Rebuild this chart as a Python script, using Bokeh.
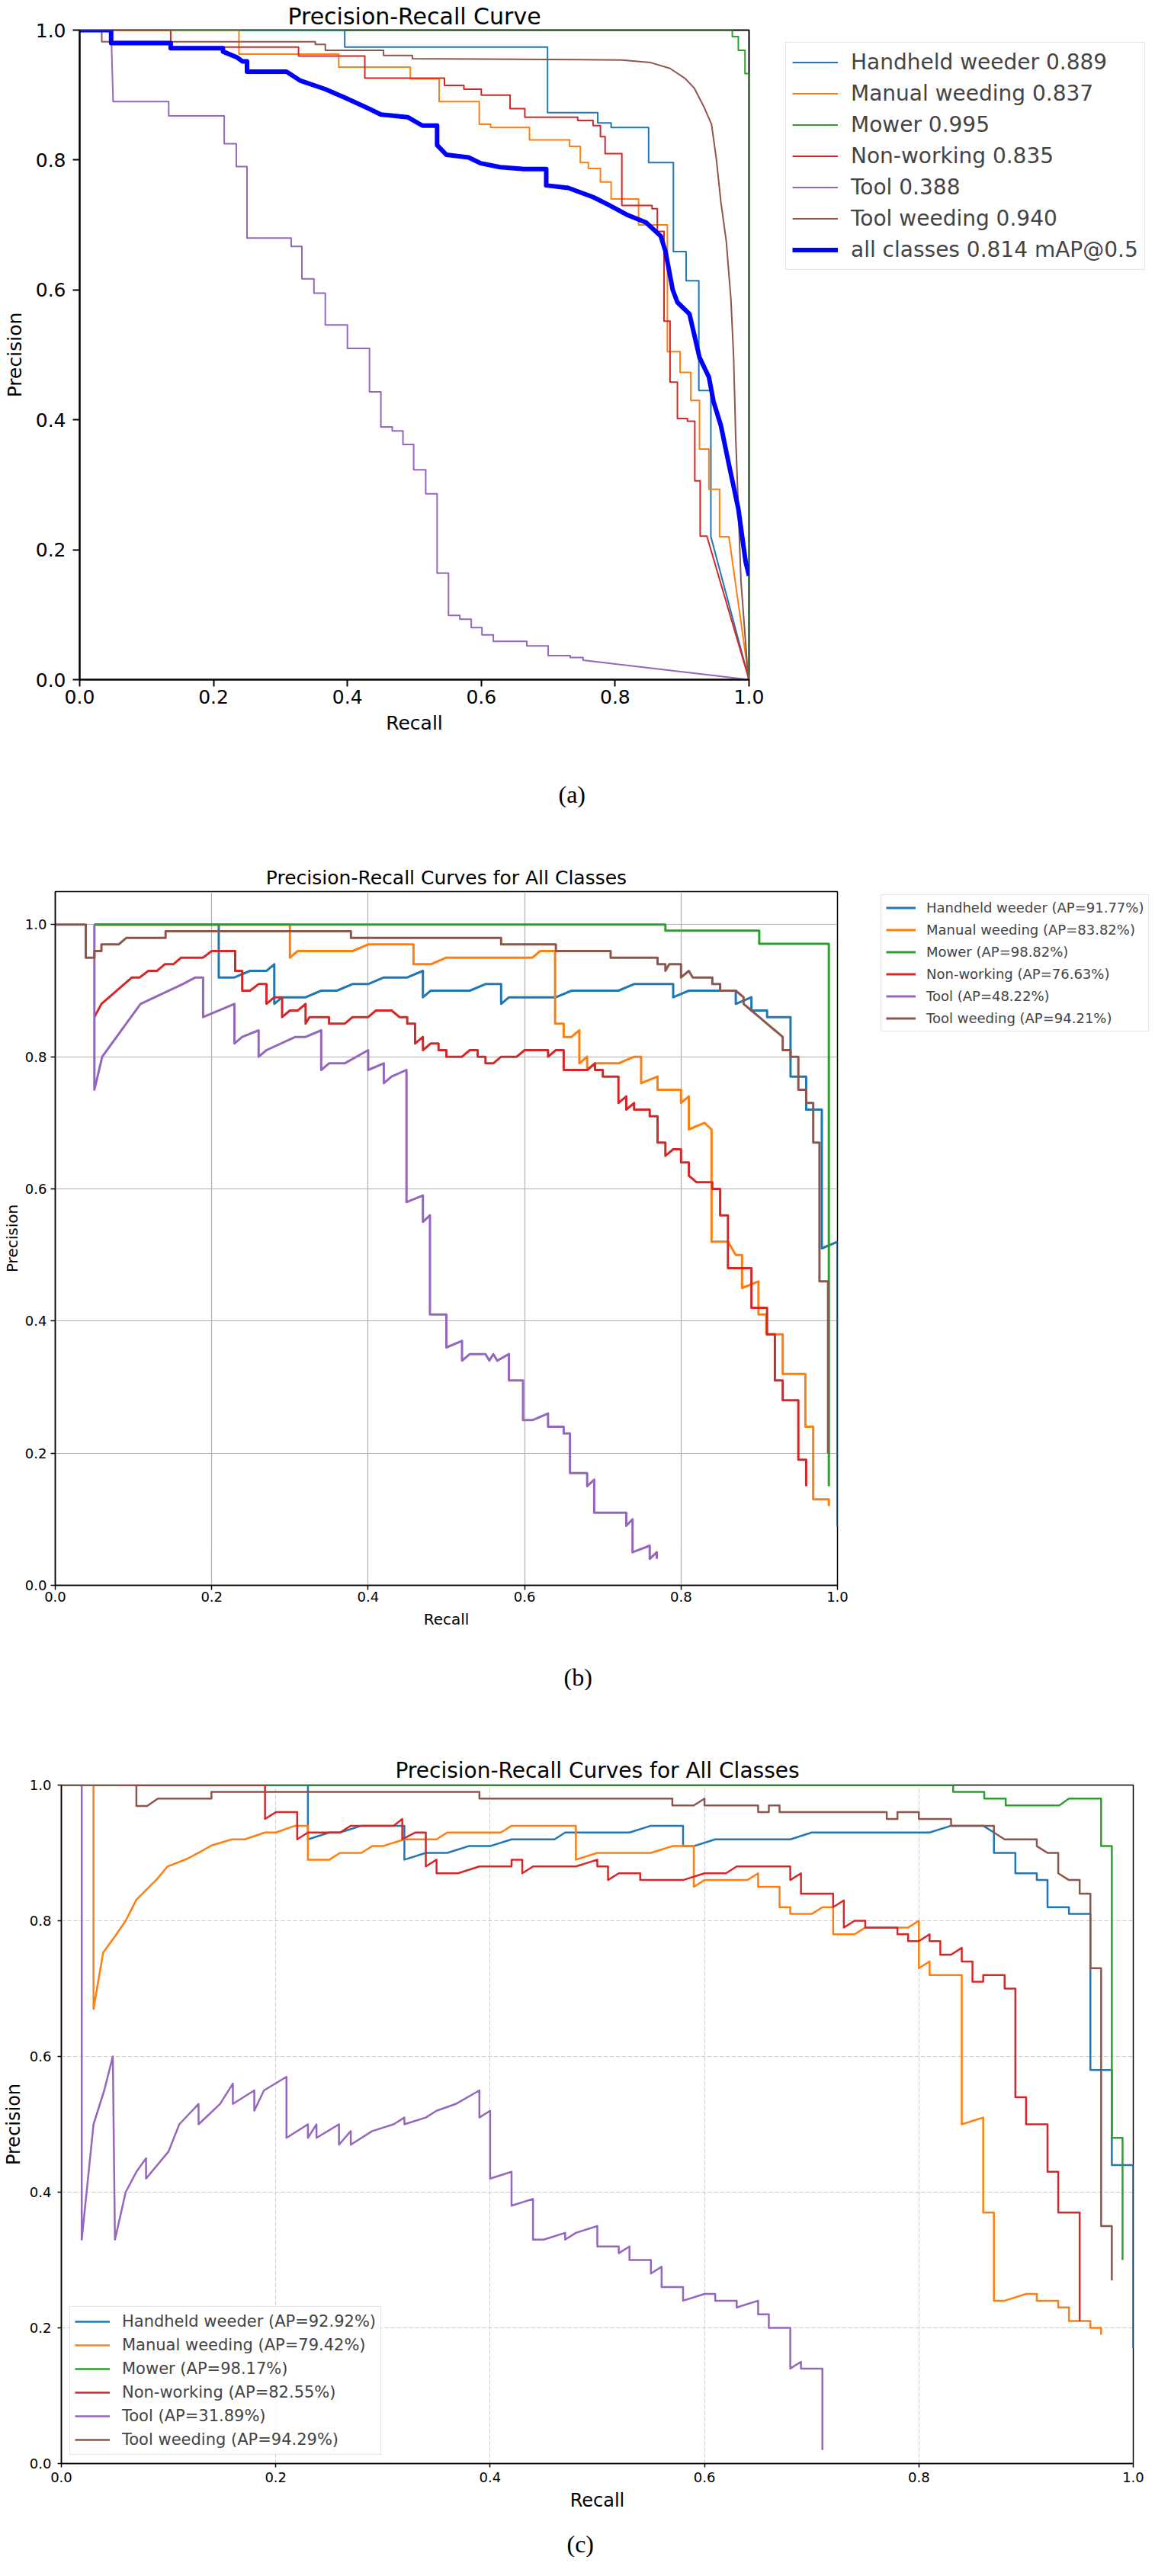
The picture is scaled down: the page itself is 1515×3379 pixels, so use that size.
from bokeh.plotting import figure
from bokeh.models import Range1d, FixedTicker, PrintfTickFormatter, Legend, LegendItem, Title
from bokeh.embed import file_html
from bokeh.resources import INLINE

# ---------------- data ----------------
CLASS_NAMES = ["Handheld weeder", "Manual weeding", "Mower", "Non-working", "Tool", "Tool weeding"]
CLASS_COLORS = ["#1f77b4", "#ff7f0e", "#2ca02c", "#d62728", "#9467bd", "#8c564b"]
ALL_COLOR = "#0000ff"
A_SCORES = [0.889, 0.837, 0.995, 0.835, 0.388, 0.940]
A_MAP = 0.814
B_AP = [91.77, 83.82, 98.82, 76.63, 48.22, 94.21]
C_AP = [92.92, 79.42, 98.17, 82.55, 31.89, 94.29]
AXIS_TICKS = [0.0, 0.2, 0.4, 0.6, 0.8, 1.0]

# panel (a): (recall, precision)
A_HANDHELD = [(0, 1), (0.396, 1), (0.396, 0.974), (0.699, 0.974), (0.699, 0.873), (0.774, 0.873),
              (0.774, 0.857), (0.794, 0.857), (0.794, 0.85), (0.85, 0.85), (0.85, 0.796), (0.887, 0.796),
              (0.887, 0.659), (0.906, 0.659), (0.906, 0.614), (0.925, 0.614), (0.925, 0.445), (0.943, 0.445),
              (0.943, 0.22), (1.0, 0.0)]
A_MANUAL = [(0, 1), (0.238, 1), (0.238, 0.963), (0.387, 0.963), (0.387, 0.943), (0.494, 0.943), (0.494, 0.925),
            (0.537, 0.925), (0.537, 0.89), (0.597, 0.89), (0.597, 0.855), (0.614, 0.855), (0.614, 0.85),
            (0.672, 0.85), (0.672, 0.831), (0.732, 0.831), (0.732, 0.821), (0.748, 0.821), (0.748, 0.796),
            (0.76, 0.796), (0.76, 0.787), (0.778, 0.787), (0.778, 0.766), (0.794, 0.766), (0.794, 0.74),
            (0.835, 0.74), (0.835, 0.70), (0.878, 0.70), (0.878, 0.505), (0.897, 0.505), (0.897, 0.473),
            (0.913, 0.473), (0.913, 0.43), (0.926, 0.43), (0.926, 0.355), (0.94, 0.355), (0.94, 0.293),
            (0.956, 0.293), (0.956, 0.22), (0.97, 0.22), (1.0, 0.0)]
A_MOWER = [(0, 1), (0.975, 1), (0.975, 0.99), (0.984, 0.99), (0.984, 0.969), (0.994, 0.969), (0.994, 0.933),
           (1.0, 0.933), (1.0, 0.0)]
A_NONWORK = [(0, 1), (0.136, 1), (0.136, 0.974), (0.327, 0.974), (0.327, 0.96), (0.426, 0.96), (0.426, 0.926),
             (0.545, 0.926), (0.545, 0.915), (0.574, 0.915), (0.574, 0.909), (0.6, 0.909), (0.6, 0.9),
             (0.643, 0.9), (0.643, 0.879), (0.665, 0.879), (0.665, 0.866), (0.744, 0.866), (0.744, 0.861),
             (0.767, 0.861), (0.767, 0.853), (0.778, 0.853), (0.778, 0.836), (0.785, 0.836), (0.785, 0.81),
             (0.81, 0.81), (0.81, 0.73), (0.855, 0.73), (0.855, 0.725), (0.863, 0.725), (0.863, 0.69),
             (0.873, 0.69), (0.873, 0.552), (0.882, 0.552), (0.882, 0.458), (0.893, 0.458), (0.893, 0.402),
             (0.908, 0.402), (0.908, 0.398), (0.919, 0.398), (0.919, 0.306), (0.927, 0.306), (0.927, 0.221),
             (0.937, 0.221), (1.0, 0.0)]
A_TOOL = [(0, 1), (0.047, 1), (0.05, 0.89), (0.133, 0.89), (0.133, 0.868), (0.216, 0.868), (0.216, 0.825),
          (0.234, 0.825), (0.234, 0.79), (0.25, 0.79), (0.25, 0.68), (0.316, 0.68), (0.316, 0.667),
          (0.332, 0.667), (0.332, 0.617), (0.35, 0.617), (0.35, 0.595), (0.367, 0.595), (0.367, 0.546),
          (0.40, 0.546), (0.40, 0.51), (0.433, 0.51), (0.433, 0.443), (0.45, 0.443), (0.45, 0.389),
          (0.467, 0.389), (0.467, 0.383), (0.483, 0.383), (0.483, 0.362), (0.499, 0.362), (0.499, 0.323),
          (0.517, 0.323), (0.517, 0.286), (0.534, 0.286), (0.534, 0.164), (0.551, 0.164), (0.551, 0.099),
          (0.568, 0.099), (0.568, 0.093), (0.585, 0.093), (0.585, 0.08), (0.601, 0.08), (0.601, 0.069),
          (0.618, 0.069), (0.618, 0.059), (0.668, 0.059), (0.668, 0.052), (0.70, 0.052), (0.70, 0.037),
          (0.733, 0.037), (0.733, 0.034), (0.752, 0.034), (0.752, 0.03), (1.0, 0.0)]
A_TOOLWEED = [(0, 1), (0.033, 1), (0.033, 0.982), (0.352, 0.982), (0.352, 0.978), (0.367, 0.978),
              (0.367, 0.969), (0.454, 0.969), (0.454, 0.961), (0.497, 0.961), (0.497, 0.956), (0.81, 0.954),
              (0.853, 0.95), (0.882, 0.941), (0.904, 0.926), (0.918, 0.911), (0.933, 0.881), (0.944, 0.855),
              (0.951, 0.803), (0.958, 0.735), (0.966, 0.675), (0.973, 0.585), (0.977, 0.496), (0.98, 0.376),
              (0.988, 0.151), (0.999, 0.0)]
A_ALL = [(0, 1), (0.047, 1), (0.047, 0.98), (0.136, 0.98), (0.136, 0.972), (0.214, 0.972), (0.214, 0.967),
         (0.235, 0.958), (0.243, 0.952), (0.25, 0.952), (0.25, 0.936), (0.309, 0.936), (0.33, 0.922),
         (0.367, 0.909), (0.396, 0.896), (0.432, 0.879), (0.45, 0.87), (0.49, 0.866), (0.512, 0.853),
         (0.534, 0.853), (0.534, 0.823), (0.548, 0.808), (0.581, 0.804), (0.599, 0.795), (0.628, 0.789),
         (0.664, 0.786), (0.697, 0.786), (0.697, 0.761), (0.73, 0.757), (0.767, 0.743), (0.79, 0.731),
         (0.817, 0.716), (0.846, 0.704), (0.868, 0.683), (0.875, 0.66), (0.886, 0.60), (0.893, 0.581),
         (0.911, 0.563), (0.926, 0.496), (0.94, 0.466), (0.947, 0.428), (0.958, 0.391), (0.97, 0.331),
         (0.984, 0.263), (0.995, 0.181), (1.0, 0.16)]

# panel (b)
B_HANDHELD = [(0.05, 1.0), (0.209, 1.0), (0.209, 0.92), (0.229, 0.92), (0.249, 0.93), (0.27, 0.93),
              (0.28, 0.94), (0.28, 0.88), (0.29, 0.89), (0.32, 0.89), (0.34, 0.90), (0.36, 0.90), (0.38, 0.91),
              (0.40, 0.91), (0.42, 0.92), (0.45, 0.92), (0.47, 0.93), (0.47, 0.89), (0.48, 0.90), (0.53, 0.90),
              (0.55, 0.91), (0.57, 0.91), (0.57, 0.88), (0.58, 0.89), (0.64, 0.89), (0.66, 0.90), (0.72, 0.90),
              (0.74, 0.91), (0.79, 0.91), (0.79, 0.89), (0.81, 0.90), (0.87, 0.90), (0.87, 0.88), (0.89, 0.89),
              (0.89, 0.87), (0.91, 0.87), (0.91, 0.86), (0.94, 0.86), (0.94, 0.77), (0.96, 0.77), (0.96, 0.72),
              (0.98, 0.72), (0.98, 0.51), (1.0, 0.52), (1.0, 0.09)]
B_MANUAL = [(0.05, 1.0), (0.30, 1.0), (0.30, 0.95), (0.31, 0.96), (0.38, 0.96), (0.40, 0.97), (0.458, 0.97),
            (0.458, 0.94), (0.48, 0.94), (0.50, 0.95), (0.61, 0.95), (0.62, 0.96), (0.639, 0.96), (0.639, 0.85),
            (0.65, 0.85), (0.65, 0.83), (0.66, 0.83), (0.67, 0.84), (0.67, 0.79), (0.68, 0.80), (0.68, 0.78),
            (0.69, 0.79), (0.72, 0.79), (0.74, 0.80), (0.749, 0.80), (0.749, 0.76), (0.77, 0.77), (0.77, 0.75),
            (0.80, 0.75), (0.80, 0.73), (0.81, 0.74), (0.81, 0.69), (0.83, 0.70), (0.839, 0.69), (0.839, 0.52),
            (0.86, 0.52), (0.87, 0.50), (0.878, 0.50), (0.878, 0.45), (0.899, 0.46), (0.899, 0.41),
            (0.909, 0.41), (0.909, 0.38), (0.93, 0.38), (0.93, 0.32), (0.959, 0.32), (0.959, 0.24),
            (0.969, 0.24), (0.969, 0.13), (0.989, 0.13), (0.989, 0.12)]
B_MOWER = [(0.05, 1.0), (0.78, 1.0), (0.78, 0.991), (0.90, 0.991), (0.90, 0.971), (0.989, 0.971), (0.989, 0.15)]
B_NONWORK = [(0.05, 0.86), (0.059, 0.88), (0.098, 0.92), (0.108, 0.92), (0.119, 0.93), (0.13, 0.93),
             (0.14, 0.94), (0.151, 0.94), (0.161, 0.95), (0.189, 0.95), (0.20, 0.96), (0.23, 0.96), (0.23, 0.93),
             (0.239, 0.93), (0.239, 0.90), (0.249, 0.90), (0.26, 0.91), (0.27, 0.91), (0.27, 0.88), (0.28, 0.89),
             (0.29, 0.89), (0.29, 0.86), (0.30, 0.87), (0.31, 0.87), (0.32, 0.88), (0.32, 0.85), (0.325, 0.86),
             (0.35, 0.86), (0.35, 0.85), (0.37, 0.85), (0.38, 0.86), (0.40, 0.86), (0.41, 0.87), (0.43, 0.87),
             (0.44, 0.86), (0.45, 0.86), (0.45, 0.85), (0.46, 0.85), (0.46, 0.82), (0.47, 0.83), (0.47, 0.81),
             (0.48, 0.82), (0.49, 0.82), (0.49, 0.81), (0.50, 0.81), (0.50, 0.80), (0.52, 0.80), (0.53, 0.81),
             (0.54, 0.81), (0.54, 0.80), (0.55, 0.80), (0.55, 0.79), (0.56, 0.79), (0.57, 0.80), (0.59, 0.80),
             (0.60, 0.81), (0.63, 0.81), (0.63, 0.80), (0.64, 0.81), (0.65, 0.81), (0.65, 0.78), (0.68, 0.78),
             (0.69, 0.79), (0.69, 0.78), (0.70, 0.78), (0.70, 0.77), (0.72, 0.77), (0.72, 0.73), (0.73, 0.74),
             (0.73, 0.72), (0.74, 0.73), (0.74, 0.72), (0.76, 0.72), (0.76, 0.71), (0.77, 0.71), (0.77, 0.67),
             (0.78, 0.67), (0.78, 0.65), (0.79, 0.66), (0.80, 0.66), (0.80, 0.64), (0.81, 0.64), (0.81, 0.62),
             (0.82, 0.61), (0.84, 0.61), (0.84, 0.60), (0.85, 0.60), (0.85, 0.56), (0.86, 0.56), (0.86, 0.48),
             (0.88, 0.48), (0.89, 0.48), (0.89, 0.42), (0.90, 0.42), (0.91, 0.42), (0.91, 0.38), (0.92, 0.38),
             (0.92, 0.31), (0.93, 0.31), (0.93, 0.28), (0.95, 0.28), (0.95, 0.19), (0.96, 0.19), (0.96, 0.15)]
B_TOOL = [(0.05, 1.0), (0.05, 0.75), (0.06, 0.80), (0.109, 0.88), (0.163, 0.91), (0.179, 0.92), (0.189, 0.92),
          (0.189, 0.86), (0.229, 0.88), (0.229, 0.82), (0.239, 0.83), (0.26, 0.84), (0.26, 0.80), (0.27, 0.81),
          (0.307, 0.83), (0.32, 0.83), (0.34, 0.84), (0.34, 0.78), (0.35, 0.79), (0.37, 0.79), (0.40, 0.81),
          (0.40, 0.78), (0.42, 0.79), (0.42, 0.76), (0.43, 0.77), (0.449, 0.78), (0.449, 0.58), (0.47, 0.59),
          (0.47, 0.55), (0.479, 0.56), (0.479, 0.41), (0.50, 0.41), (0.50, 0.36), (0.52, 0.37), (0.52, 0.34),
          (0.53, 0.35), (0.55, 0.35), (0.555, 0.34), (0.56, 0.35), (0.565, 0.34), (0.58, 0.35), (0.58, 0.31),
          (0.598, 0.31), (0.598, 0.25), (0.61, 0.25), (0.63, 0.26), (0.63, 0.24), (0.65, 0.24), (0.65, 0.23),
          (0.658, 0.23), (0.658, 0.17), (0.68, 0.17), (0.68, 0.15), (0.689, 0.16), (0.689, 0.11), (0.73, 0.11),
          (0.73, 0.09), (0.738, 0.10), (0.738, 0.05), (0.76, 0.06), (0.76, 0.04), (0.769, 0.05), (0.769, 0.04)]
B_TOOLWEED = [(0.0, 1.0), (0.039, 1.0), (0.039, 0.95), (0.05, 0.95), (0.05, 0.96), (0.059, 0.96), (0.059, 0.97),
              (0.081, 0.97), (0.091, 0.98), (0.141, 0.98), (0.141, 0.99), (0.378, 0.99), (0.378, 0.98),
              (0.57, 0.98), (0.57, 0.97), (0.64, 0.97), (0.64, 0.96), (0.71, 0.96), (0.71, 0.95), (0.77, 0.95),
              (0.77, 0.94), (0.78, 0.94), (0.78, 0.93), (0.785, 0.94), (0.80, 0.94), (0.80, 0.92), (0.81, 0.93),
              (0.815, 0.92), (0.84, 0.92), (0.84, 0.91), (0.85, 0.91), (0.85, 0.90), (0.87, 0.90), (0.88, 0.89),
              (0.88, 0.88), (0.89, 0.87), (0.90, 0.86), (0.91, 0.85), (0.92, 0.84), (0.93, 0.83), (0.93, 0.81),
              (0.94, 0.81), (0.94, 0.80), (0.95, 0.80), (0.95, 0.75), (0.96, 0.75), (0.96, 0.73), (0.969, 0.73),
              (0.969, 0.67), (0.977, 0.67), (0.977, 0.46), (0.988, 0.46), (0.988, 0.20)]

# panel (c)
C_HANDHELD = [(0.02, 1.0), (0.23, 1.0), (0.23, 0.92), (0.25, 0.93), (0.26, 0.93), (0.28, 0.94), (0.32, 0.94),
              (0.32, 0.89), (0.34, 0.90), (0.36, 0.90), (0.38, 0.91), (0.40, 0.91), (0.42, 0.92), (0.46, 0.92),
              (0.47, 0.93), (0.53, 0.93), (0.55, 0.94), (0.58, 0.94), (0.58, 0.91), (0.59, 0.91), (0.61, 0.92),
              (0.68, 0.92), (0.70, 0.93), (0.81, 0.93), (0.83, 0.94), (0.86, 0.94), (0.87, 0.93), (0.87, 0.90),
              (0.89, 0.90), (0.89, 0.87), (0.91, 0.87), (0.91, 0.86), (0.92, 0.86), (0.92, 0.82), (0.94, 0.82),
              (0.94, 0.81), (0.96, 0.81), (0.96, 0.58), (0.98, 0.58), (0.98, 0.44), (1.0, 0.44), (1.0, 0.17)]
C_MANUAL = [(0.03, 1.0), (0.03, 0.67), (0.039, 0.753), (0.05, 0.777), (0.06, 0.80), (0.07, 0.831),
            (0.089, 0.861), (0.099, 0.88), (0.117, 0.891), (0.129, 0.901), (0.14, 0.911), (0.159, 0.92),
            (0.171, 0.92), (0.19, 0.93), (0.20, 0.93), (0.218, 0.94), (0.23, 0.94), (0.23, 0.89), (0.25, 0.89),
            (0.26, 0.90), (0.28, 0.90), (0.29, 0.91), (0.30, 0.91), (0.32, 0.92), (0.35, 0.92), (0.36, 0.93),
            (0.41, 0.93), (0.42, 0.94), (0.48, 0.94), (0.48, 0.89), (0.50, 0.90), (0.55, 0.90), (0.57, 0.91),
            (0.59, 0.91), (0.59, 0.85), (0.60, 0.86), (0.64, 0.86), (0.65, 0.87), (0.65, 0.85), (0.67, 0.85),
            (0.67, 0.82), (0.68, 0.82), (0.68, 0.81), (0.70, 0.81), (0.71, 0.82), (0.72, 0.82), (0.72, 0.78),
            (0.74, 0.78), (0.75, 0.79), (0.79, 0.79), (0.80, 0.80), (0.80, 0.73), (0.81, 0.74), (0.81, 0.72),
            (0.84, 0.72), (0.84, 0.50), (0.86, 0.51), (0.86, 0.37), (0.87, 0.37), (0.87, 0.24), (0.88, 0.24),
            (0.90, 0.25), (0.91, 0.25), (0.91, 0.24), (0.93, 0.24), (0.93, 0.23), (0.94, 0.23), (0.94, 0.21),
            (0.96, 0.21), (0.96, 0.20), (0.97, 0.20), (0.97, 0.19)]
C_MOWER = [(0.0, 1.0), (0.832, 1.0), (0.832, 0.99), (0.861, 0.99), (0.861, 0.98), (0.881, 0.98), (0.881, 0.97),
           (0.931, 0.97), (0.94, 0.98), (0.97, 0.98), (0.97, 0.91), (0.98, 0.91), (0.98, 0.48), (0.99, 0.48),
           (0.99, 0.30)]
C_NONWORK = [(0.05, 1.0), (0.19, 1.0), (0.19, 0.95), (0.20, 0.96), (0.22, 0.96), (0.22, 0.92), (0.23, 0.93),
             (0.26, 0.93), (0.27, 0.94), (0.31, 0.94), (0.318, 0.95), (0.318, 0.92), (0.33, 0.93), (0.34, 0.93),
             (0.34, 0.88), (0.35, 0.89), (0.35, 0.87), (0.37, 0.87), (0.39, 0.88), (0.42, 0.88), (0.42, 0.89),
             (0.43, 0.89), (0.43, 0.87), (0.44, 0.88), (0.48, 0.88), (0.50, 0.89), (0.50, 0.88), (0.51, 0.88),
             (0.51, 0.86), (0.52, 0.87), (0.54, 0.87), (0.54, 0.86), (0.58, 0.86), (0.60, 0.87), (0.62, 0.87),
             (0.63, 0.88), (0.68, 0.88), (0.68, 0.86), (0.69, 0.87), (0.69, 0.84), (0.72, 0.84), (0.72, 0.82),
             (0.73, 0.83), (0.73, 0.79), (0.74, 0.80), (0.75, 0.80), (0.75, 0.79), (0.78, 0.79), (0.78, 0.78),
             (0.79, 0.78), (0.79, 0.77), (0.80, 0.77), (0.81, 0.78), (0.81, 0.77), (0.82, 0.77), (0.82, 0.75),
             (0.83, 0.75), (0.84, 0.76), (0.84, 0.74), (0.85, 0.74), (0.85, 0.71), (0.86, 0.71), (0.86, 0.72),
             (0.88, 0.72), (0.88, 0.70), (0.89, 0.70), (0.89, 0.54), (0.90, 0.54), (0.90, 0.50), (0.92, 0.50),
             (0.92, 0.43), (0.93, 0.43), (0.93, 0.37), (0.95, 0.37), (0.95, 0.21)]
C_TOOL = [(0.019, 1.0), (0.019, 0.33), (0.03, 0.50), (0.04, 0.55), (0.048, 0.60), (0.05, 0.33), (0.06, 0.40),
          (0.07, 0.43), (0.079, 0.45), (0.079, 0.42), (0.10, 0.46), (0.11, 0.50), (0.128, 0.53), (0.128, 0.50),
          (0.148, 0.53), (0.16, 0.56), (0.16, 0.53), (0.18, 0.55), (0.18, 0.52), (0.189, 0.55), (0.21, 0.57),
          (0.21, 0.48), (0.23, 0.50), (0.23, 0.48), (0.238, 0.50), (0.238, 0.48), (0.259, 0.50), (0.259, 0.47),
          (0.27, 0.49), (0.27, 0.47), (0.29, 0.49), (0.31, 0.50), (0.32, 0.51), (0.32, 0.50), (0.34, 0.51),
          (0.35, 0.52), (0.368, 0.53), (0.39, 0.55), (0.39, 0.51), (0.40, 0.52), (0.40, 0.42), (0.42, 0.43),
          (0.42, 0.38), (0.44, 0.39), (0.44, 0.33), (0.45, 0.33), (0.47, 0.34), (0.47, 0.33), (0.48, 0.34),
          (0.50, 0.35), (0.50, 0.32), (0.52, 0.32), (0.52, 0.31), (0.53, 0.32), (0.53, 0.30), (0.55, 0.30),
          (0.55, 0.28), (0.56, 0.29), (0.56, 0.26), (0.58, 0.26), (0.58, 0.24), (0.60, 0.25), (0.61, 0.25),
          (0.61, 0.24), (0.63, 0.24), (0.63, 0.23), (0.65, 0.24), (0.65, 0.22), (0.66, 0.22), (0.66, 0.20),
          (0.68, 0.20), (0.68, 0.14), (0.69, 0.15), (0.69, 0.14), (0.71, 0.14), (0.71, 0.02)]
C_TOOLWEED = [(0.0, 1.0), (0.07, 1.0), (0.07, 0.969), (0.08, 0.969), (0.09, 0.98), (0.14, 0.98), (0.14, 0.99),
              (0.39, 0.99), (0.39, 0.98), (0.57, 0.98), (0.57, 0.97), (0.59, 0.97), (0.60, 0.98), (0.60, 0.97),
              (0.65, 0.97), (0.65, 0.96), (0.66, 0.96), (0.66, 0.97), (0.67, 0.97), (0.67, 0.96), (0.77, 0.96),
              (0.77, 0.95), (0.78, 0.95), (0.78, 0.96), (0.80, 0.96), (0.80, 0.95), (0.83, 0.95), (0.83, 0.94),
              (0.87, 0.94), (0.87, 0.93), (0.88, 0.92), (0.91, 0.92), (0.91, 0.91), (0.92, 0.90), (0.93, 0.90),
              (0.93, 0.87), (0.94, 0.86), (0.95, 0.86), (0.95, 0.84), (0.96, 0.84), (0.96, 0.73), (0.97, 0.73),
              (0.97, 0.35), (0.98, 0.35), (0.98, 0.27)]

A_SERIES = [A_HANDHELD, A_MANUAL, A_MOWER, A_NONWORK, A_TOOL, A_TOOLWEED]
B_SERIES = [B_HANDHELD, B_MANUAL, B_MOWER, B_NONWORK, B_TOOL, B_TOOLWEED]
C_SERIES = [C_HANDHELD, C_MANUAL, C_MOWER, C_NONWORK, C_TOOL, C_TOOLWEED]

FONT = "DejaVu Sans"


def base_fig(fw, fh, left, right, top, y_end, title, title_px, title_standoff):
    p = figure(frame_width=fw, frame_height=fh, x_range=Range1d(0, 1), y_range=Range1d(0, y_end),
               output_backend="svg", toolbar_location=None,
               min_border_left=left, min_border_right=right, min_border_top=top, min_border_bottom=0)
    p.title.text = title
    p.title.align = "center"
    p.title.text_font = FONT
    p.title.text_font_size = f"{title_px}px"
    p.title.text_font_style = "normal"
    p.title.text_color = "black"
    p.title.standoff = title_standoff
    p.outline_line_color = "black"
    p.background_fill_color = "white"
    p.border_fill_color = "white"
    return p


def style_axes(p, tick_px, label_px, tick_out, line_w, x_so, x_aso, y_so, y_aso):
    for ax, so, aso, name in ((p.xaxis[0], x_so, x_aso, "Recall"), (p.yaxis[0], y_so, y_aso, "Precision")):
        ax.axis_label = name
        ax.ticker = FixedTicker(ticks=AXIS_TICKS)
        ax.formatter = PrintfTickFormatter(format="%.1f")
        ax.major_label_text_font = FONT
        ax.major_label_text_font_size = f"{tick_px}px"
        ax.major_label_text_color = "black"
        ax.axis_label_text_font = FONT
        ax.axis_label_text_font_size = f"{label_px}px"
        ax.axis_label_text_font_style = "normal"
        ax.axis_label_text_color = "black"
        ax.major_tick_out = tick_out
        ax.major_tick_in = 0
        ax.minor_tick_out = 0
        ax.minor_tick_in = 0
        ax.major_tick_line_width = line_w
        ax.axis_line_width = line_w
        ax.axis_line_color = "black"
        ax.major_label_standoff = so
        ax.axis_label_standoff = aso
    p.outline_line_width = line_w


def draw(p, series, width):
    rs = []
    for pts, col in zip(series, CLASS_COLORS):
        xs = [a for a, b in pts]
        ys = [b for a, b in pts]
        rs.append(p.line(xs, ys, line_color=col, line_width=width, line_join="round"))
    return rs


def make_legend(renderers, labels, loc, margin, font_px, glyph_w, item_h, spacing, padding, standoff):
    items = [LegendItem(label=l, renderers=[r]) for l, r in zip(labels, renderers)]
    return Legend(items=items, location=loc, label_text_font=FONT, label_text_font_size=f"{font_px}px",
                  glyph_width=glyph_w, glyph_height=item_h, label_height=item_h, spacing=spacing,
                  padding=padding, label_standoff=standoff, margin=margin,
                  border_line_color="#cccccc", border_line_width=1.5,
                  background_fill_color="white", background_fill_alpha=0.8)


def add_caption(p, text, gap, offset, size_px):
    spacer = Title(text=" ", text_font_size="1px", standoff=gap)
    p.add_layout(spacer, "below")
    cap = Title(text=text, align="left", offset=offset, text_font="Liberation Serif",
                text_font_size=f"{size_px}px", text_font_style="normal", text_color="black", standoff=0)
    p.add_layout(cap, "below")


# ---------------- panel (a) ----------------
pa = base_fig(878, 852, 104, 517, 34, 1.0, "Precision-Recall Curve", 30, 2)
style_axes(pa, 25, 25, 9, 2, 4, 8, 9, 10)
pa.grid.visible = False
ra = draw(pa, A_SERIES, 2)
all_x = [a for a, b in A_ALL]
all_y = [b for a, b in A_ALL]
ra.append(pa.line(all_x, all_y, line_color=ALL_COLOR, line_width=6, line_join="round"))
a_labels = [f"{n} {s:.3f}" for n, s in zip(CLASS_NAMES, A_SCORES)] + [f"all classes {A_MAP:.3f} mAP@0.5"]
pa.add_layout(make_legend(ra, a_labels, (48, 537), 25, 28, 60, 35, 6, 8, 17), "right")
add_caption(pa, "(a)", 53, 628, 32)

# ---------------- panel (b) ----------------
pb = base_fig(1026, 910, 65, 408, 110, 1.05, "Precision-Recall Curves for All Classes", 25, 8)
style_axes(pb, 18, 20, 6, 1.5, 2, 8, 5, 2)
pb.grid.grid_line_color = "#b0b0b0"
pb.grid.grid_line_width = 1.2
rb = draw(pb, B_SERIES, 3)
b_labels = [f"{n} (AP={v:.2f}%)" for n, v in zip(CLASS_NAMES, B_AP)]
pb.add_layout(make_legend(rb, b_labels, (57, 726), 29, 18, 39, 21, 8, 6, 14), "right")
add_caption(pb, "(b)", 38, 667, 32)

# ---------------- panel (c) ----------------
pc = base_fig(1406, 890, 74, 19, 124, 1.0, "Precision-Recall Curves for All Classes", 28, 6)
style_axes(pc, 18, 24, 5, 1.5, 6, 7, 8, 4)
pc.grid.grid_line_color = "#c8c8c8"
pc.grid.grid_line_width = 1
pc.grid.grid_line_dash = "5 3"
rc = draw(pc, C_SERIES, 2.5)
c_labels = [f"{n} (AP={v:.2f}%)" for n, v in zip(CLASS_NAMES, C_AP)]
pc.add_layout(make_legend(rc, c_labels, (11, 11), 0, 21, 46, 26, 5, 6, 16))
add_caption(pc, "(c)", 17, 663, 32)

open("out.html", "w").write(file_html([pa, pb, pc], INLINE))
